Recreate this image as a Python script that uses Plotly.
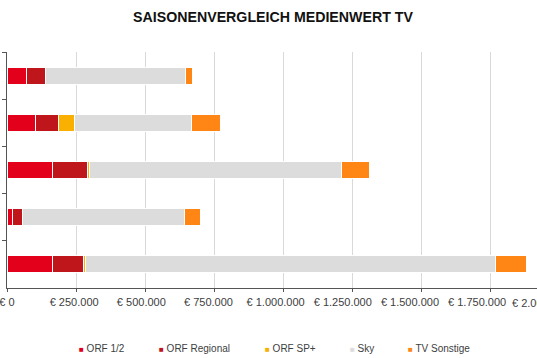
import plotly.graph_objects as go

# Data (values in EUR), categories listed top to bottom
seasons = ["Saison 1", "Saison 2", "Saison 3", "Saison 4", "Saison 5"]
series_names = ["ORF 1/2", "ORF Regional", "ORF SP+", "Sky", "TV Sonstige"]
orf12 = [70000, 104000, 166000, 19000, 166000]
orf_regional = [70000, 81000, 126000, 36000, 111000]
orf_sp = [0, 59000, 8000, 0, 8000]
sky = [505000, 423000, 911000, 587000, 1484000]
tv_sonstige = [26000, 106000, 104000, 58000, 114000]
tick_vals = [0, 250000, 500000, 750000, 1000000, 1250000, 1500000, 1750000]
tick_text = ["€ 0", "€ 250.000", "€ 500.000", "€ 750.000", "€ 1.000.000",
             "€ 1.250.000", "€ 1.500.000", "€ 1.750.000"]
cut_tick_text = "€ 2.000.000"

colors = ["#e2001a", "#bf161c", "#f9b000", "#dcdcdc", "#ff8614"]
series = [orf12, orf_regional, orf_sp, sky, tv_sonstige]

x_max = 1920000
label_scale = 276.0 / 268.6   # tick labels in the original sit slightly tighter than the grid
W, H = 537, 358
ML, MT, MB = 7, 52, 70
PW, PH = W - ML, H - MT - MB

fig = go.Figure()
for name, vals, col in zip(series_names, series, colors):
    fig.add_trace(go.Bar(
        y=seasons, x=vals, orientation="h", name=name,
        marker=dict(color=col, line=dict(color="white", width=1)),
        width=0.36, showlegend=False,
    ))

# legend: one small legend per entry, square drawn as a glyph before the name
legend_left_px = [80, 160, 266, 351, 409]
legend_ids = ["legend", "legend2", "legend3", "legend4", "legend5"]
legend_layouts = {}
for name, col, lid, px in zip(series_names, colors, legend_ids, legend_left_px):
    fig.add_trace(go.Scatter(
        x=[None], y=[None], mode="markers",
        name=f"<span style='color:{col};font-size:8px'>■</span> {name}",
        marker=dict(size=1, color="rgba(0,0,0,0)"),
        showlegend=True, legend=lid,
    ))
    legend_layouts[lid] = dict(
        orientation="h", xref="container", yref="container",
        x=(px - 41) / W, xanchor="left", y=1 - 348 / H, yanchor="middle",
        font=dict(family="Liberation Sans, Arial", size=10, color="#404040"),
        itemclick=False, itemdoubleclick=False,
        bgcolor="rgba(0,0,0,0)", borderwidth=0,
    )

# invisible trace on the label axis so it is drawn
fig.add_trace(go.Scatter(x=[None], y=[None], xaxis="x2", showlegend=False,
                         hoverinfo="skip"))

fig.update_layout(
    barmode="stack",
    width=W, height=H,
    margin=dict(l=ML, r=0, t=MT, b=MB, autoexpand=False),
    paper_bgcolor="white", plot_bgcolor="white",
    title=dict(
        text="<b>SAISONENVERGLEICH MEDIENWERT TV</b>",
        x=273 / W, xanchor="center", xref="container",
        y=1 - 17 / H, yanchor="middle", yref="container",
        font=dict(family="Liberation Sans, Arial", size=14.2, color="#111111"),
    ),
    xaxis=dict(
        range=[0, x_max], tickvals=tick_vals, showticklabels=False,
        showgrid=True, gridcolor="#d9d9d9", gridwidth=1,
        showline=True, linecolor="#555555", linewidth=1,
        ticks="outside", ticklen=3, tickcolor="#555555",
        zeroline=False, fixedrange=True, automargin=False,
    ),
    xaxis2=dict(
        overlaying="x", side="bottom", anchor="y",
        range=[0, x_max * label_scale], tickvals=tick_vals, ticktext=tick_text,
        showgrid=False, showline=False, ticks="", zeroline=False,
        ticklabeloverflow="allow", ticklabelstandoff=6,
        tickfont=dict(family="Liberation Sans, Arial", size=11, color="#404040"),
        fixedrange=True, automargin=False,
    ),
    yaxis=dict(
        autorange="reversed", showticklabels=False,
        showline=True, linecolor="#555555", linewidth=1,
        ticks="outside", ticklen=4, tickcolor="#555555", tickson="boundaries",
        showgrid=False, zeroline=False, fixedrange=True, automargin=False,
    ),
    annotations=[dict(
        x=(510 - ML) / PW, xref="paper", y=(MT + PH - 303) / PH, yref="paper",
        text=cut_tick_text, showarrow=False,
        xanchor="left", yanchor="middle",
        font=dict(family="Liberation Sans, Arial", size=11, color="#404040"),
    )],
    **legend_layouts,
)

fig.write_html(
    "out.html",
    config={"displayModeBar": False},
    post_script="document.body.style.margin='0';document.body.style.overflow='hidden';",
)
